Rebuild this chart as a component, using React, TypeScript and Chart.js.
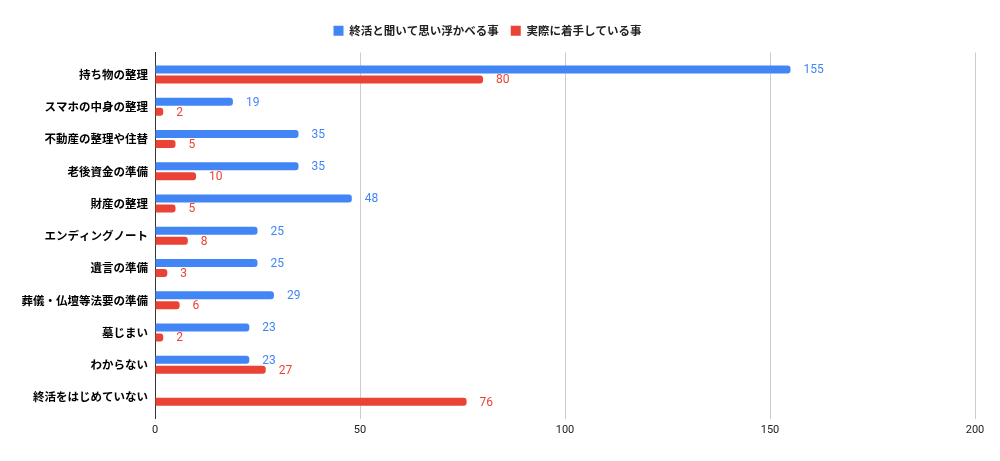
import { useEffect, useRef } from 'react';
import { Chart, registerables } from 'chart.js';

Chart.register(...registerables);

const categories = [
  '持ち物の整理',
  'スマホの中身の整理',
  '不動産の整理や住替',
  '老後資金の準備',
  '財産の整理',
  'エンディングノート',
  '遺言の準備',
  '葬儀・仏壇等法要の準備',
  '墓じまい',
  'わからない',
  '終活をはじめていない',
];
const thinkValues = [155, 19, 35, 35, 48, 25, 25, 29, 23, 23, null];
const doingValues = [80, 2, 5, 10, 5, 8, 3, 6, 2, 27, 76];
const xTicks = [0, 50, 100, 150, 200];

const BLUE = '#4285F4';
const RED = '#EA4335';

// numbers drawn just right of each bar, in the bar's colour
const valueLabels = {
  id: 'valueLabels',
  afterDatasetsDraw(chart: Chart) {
    const ctx = chart.ctx;
    ctx.save();
    ctx.font = '12px Roboto';
    ctx.textBaseline = 'middle';
    ctx.textAlign = 'left';
    chart.data.datasets.forEach((ds, i) => {
      const meta = chart.getDatasetMeta(i);
      ctx.fillStyle = ds.backgroundColor as string;
      meta.data.forEach((el: any, j) => {
        const v = ds.data[j];
        if (v == null) return;
        ctx.fillText(String(v), el.x + 13, el.y + 1);
      });
    });
    ctx.restore();
  },
};

// extra space under the legend
const legendGap = {
  id: 'legendGap',
  beforeInit(chart: any) {
    const fit = chart.legend.fit;
    chart.legend.fit = function () {
      fit.bind(chart.legend)();
      this.height += 6;
    };
  },
};

export default function App() {
  const chartRef = useRef<HTMLCanvasElement>(null);
  const chartInstance = useRef<Chart | null>(null);

  useEffect(() => {
    document.body.style.margin = '0';
    if (chartRef.current) {
      const ctx = chartRef.current.getContext('2d');
      if (ctx) {
        const barStyle = {
          borderRadius: { topRight: 3, bottomRight: 3, topLeft: 0, bottomLeft: 0 },
          borderSkipped: 'start' as const,
          categoryPercentage: 0.62,
          barPercentage: 0.8,
        };
        chartInstance.current = new Chart(ctx, {
          type: 'bar',
          data: {
            labels: categories,
            datasets: [
              {
                label: '終活と聞いて思い浮かべる事',
                data: thinkValues,
                backgroundColor: BLUE,
                ...barStyle,
              },
              {
                label: '実際に着手している事',
                data: doingValues,
                backgroundColor: RED,
                ...barStyle,
              },
            ],
          },
          options: {
            indexAxis: 'y',
            animation: false,
            responsive: false,
            layout: { padding: { left: 0, right: 25, top: 13, bottom: 19 } },
            scales: {
              x: {
                min: 0,
                max: 200,
                afterBuildTicks: (scale: any) => {
                  scale.ticks = xTicks.map(v => ({ value: v }));
                },
                grid: { color: '#cccccc', drawTicks: false },
                border: { display: false },
                ticks: {
                  padding: 5,
                  color: '#222222',
                  font: { family: 'Roboto', size: 11 },
                },
              },
              y: {
                afterFit: (scale: any) => {
                  scale.width = 155;
                },
                afterBuildTicks: (scale: any) => {
                  // a little room above the first and below the last category
                  scale._startValue -= 0.18;
                  scale._valueRange += 0.36;
                },
                grid: { display: false, drawTicks: false },
                border: { display: true, color: '#333333', width: 1 },
                ticks: {
                  padding: 7,
                  color: '#000000',
                  font: { family: '"Noto Sans CJK JP"', size: 11.5, weight: 'bold' },
                },
              },
            },
            plugins: {
              legend: {
                display: true,
                position: 'top',
                labels: {
                  boxWidth: 10,
                  boxHeight: 10,
                  padding: 12,
                  color: '#222222',
                  font: { family: '"Noto Sans CJK JP"', size: 11.5, weight: 'bold' },
                },
              },
              tooltip: { enabled: false },
            },
          },
          plugins: [valueLabels, legendGap],
        });
      }
    }
    return () => {
      chartInstance.current?.destroy();
    };
  }, []);

  return (
    <div style={{ width: 1000, height: 461 }}>
      <canvas ref={chartRef} width={1000} height={461}></canvas>
    </div>
  );
}
